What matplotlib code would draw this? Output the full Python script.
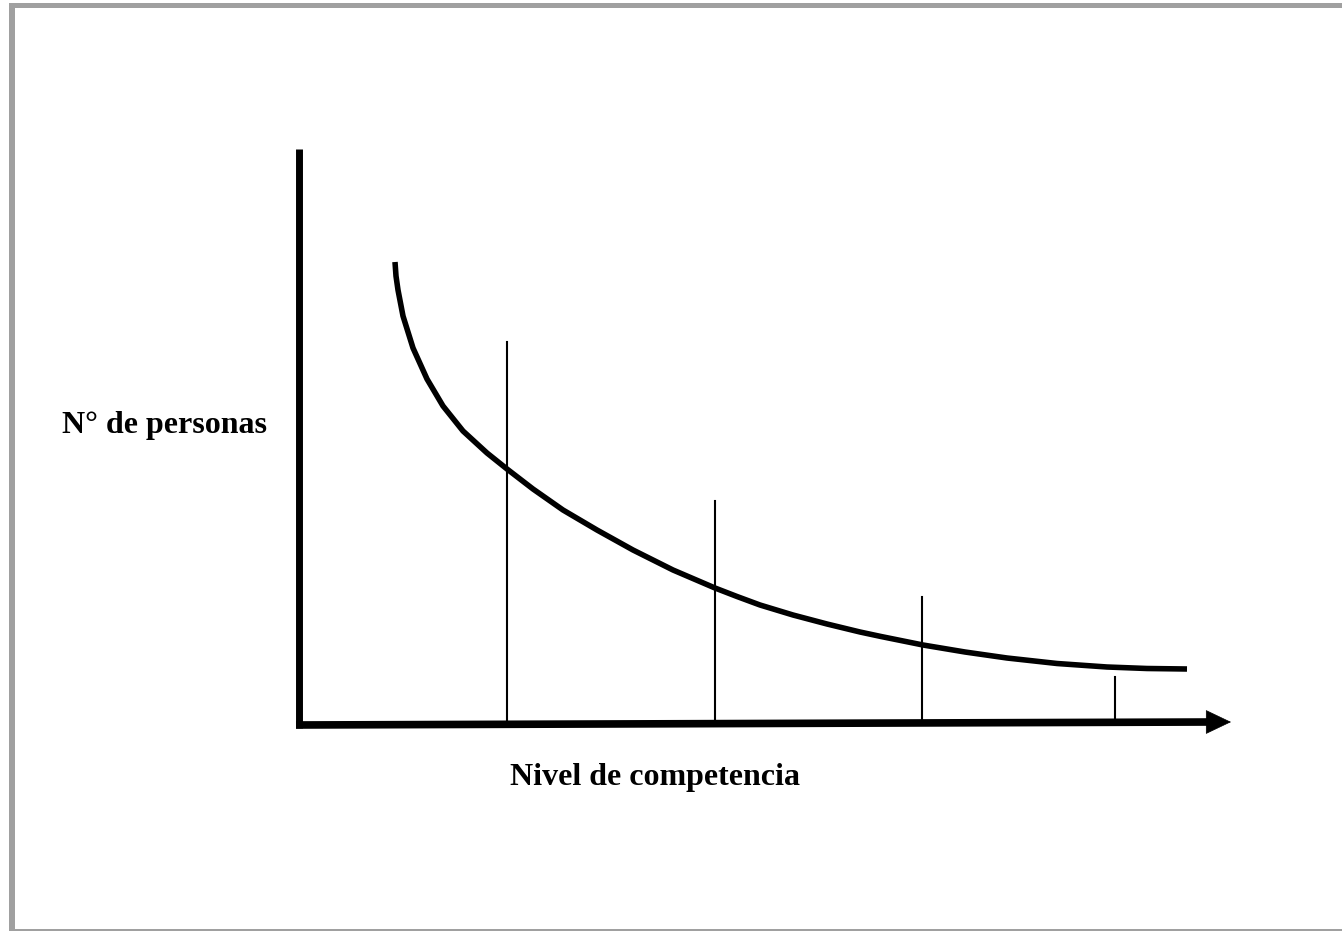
import matplotlib.pyplot as plt
from matplotlib.patches import Rectangle

# curve: number of people vs competence level (chart units, origin at the axes corner)
curve_x = [96, 97, 99, 104, 114, 128, 144, 164, 188, 208, 234, 264, 298, 334, 374,
           416, 438, 461, 494, 528, 561, 582, 624, 666, 708, 758, 808, 848, 888]
curve_y = [462, 448, 434, 408, 376, 345, 318, 293, 271, 255, 235, 214, 194, 174, 154,
           136, 127.5, 119, 109, 100, 92, 87.5, 79, 72, 66, 60.5, 57, 55.5, 55]

# vertical level markers
level_x = [208, 416, 623, 816]
level_top = [382, 223, 127, 47]

y_axis_top = 575
x_axis_start = (-3, -1)
x_axis_end = (932, 2)

y_label = "N° de personas"
x_label = "Nivel de competencia"

fig = plt.figure(figsize=(13.42, 9.31), dpi=100)
ax = fig.add_axes([0, 0, 1, 1])
ax.set_xlim(-299, 1043)
ax.set_ylim(-207, 724)
ax.axis("off")

# thin grey frame (left, top, bottom)
grey = "#a0a0a0"
fig.add_artist(Rectangle((9 / 1342, 0), 6 / 1342, 928 / 931, transform=fig.transFigure, color=grey, lw=0))
fig.add_artist(Rectangle((9 / 1342, 923 / 931), 1333 / 1342, 5 / 931, transform=fig.transFigure, color=grey, lw=0))
fig.add_artist(Rectangle((9 / 1342, 0), 1333 / 1342, 2 / 931, transform=fig.transFigure, color=grey, lw=0))

# axes
ax.plot([0, 0], [-4, y_axis_top], color="black", lw=5, solid_capstyle="butt")
ax.plot([x_axis_start[0], x_axis_end[0] - 20], [x_axis_start[1], x_axis_end[1]],
        color="black", lw=5.5, solid_capstyle="butt")
ax.annotate(
    "",
    xy=x_axis_end,
    xytext=(x_axis_end[0] - 40, x_axis_end[1]),
    arrowprops=dict(
        arrowstyle="-|>,head_length=0.86,head_width=0.41",
        mutation_scale=20,
        lw=0.5,
        color="black",
        shrinkA=0,
        shrinkB=0,
    ),
)

for x, top in zip(level_x, level_top):
    ax.plot([x, x], [0, top], color="black", lw=1.5)

ax.plot(curve_x, curve_y, color="black", lw=4, solid_capstyle="butt", solid_joinstyle="round")

ax.text(-134, 299, y_label, ha="center", va="center", fontsize=23,
        fontweight="bold", family="Liberation Serif")
ax.text(356, -53, x_label, ha="center", va="center", fontsize=23,
        fontweight="bold", family="Liberation Serif")

fig.savefig("out.png", dpi=100)
